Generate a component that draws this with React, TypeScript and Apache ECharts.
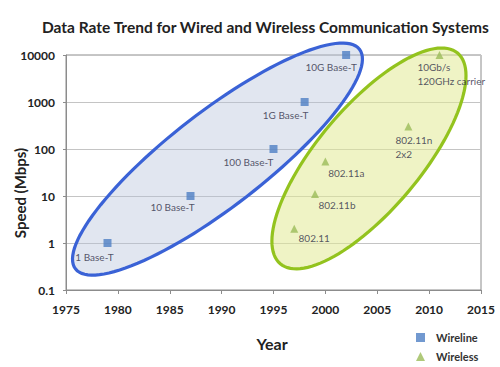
import React, { useEffect, useRef } from "react";
import * as echarts from "echarts";

// ---- data ----
const wirelineNames = ["1 Base-T", "10 Base-T", "100 Base-T", "1G Base-T", "10G Base-T"];
const wirelineYears = [1979, 1987, 1995, 1998, 2002];
const wirelineSpeeds = [1, 10, 100, 1000, 10000];

const wirelessNames = ["802.11", "802.11b", "802.11a", "802.11n\n2x2", "10Gb/s\n120GHz carrier"];
const wirelessYears = [1997, 1999, 2000, 2008, 2011];
const wirelessSpeeds = [2, 11, 54, 300, 10000];

const yTickLabels = ["0.1", "1", "10", "100", "1000", "10000"];

// ellipse annotations: centre in data units
const ellipseCenters = [
  [1989.6, 61],
  [2004.2, 63],
];

// ---- styling / layout (kept apart from data) ----
const wirelineLabelLayout = [
  { dx: -13, dy: 14, align: "center" },
  { dx: -18, dy: 11, align: "center" },
  { dx: -25, dy: 13, align: "center" },
  { dx: -19, dy: 13, align: "center" },
  { dx: -15, dy: 12, align: "center" },
];
const wirelessLabelLayout = [
  { dx: 20, dy: 9, align: "center" },
  { dx: 22, dy: 11, align: "center" },
  { dx: 21, dy: 11, align: "center" },
  { dx: -13, dy: 20, align: "left" },
  { dx: -22, dy: 19, align: "left" },
];
const ellipseShapes = [
  { a: 179.5, b: 47.5, deg: 37.7, stroke: "#3a62d6", fill: "rgba(180,192,218,0.40)" },
  { a: 137.7, b: 51.5, deg: 49.9, stroke: "#93c31e", fill: "rgba(226,234,150,0.55)" },
];

const FONT = "Lato, 'Liberation Sans', sans-serif";
const SYM = 8;

function buildPoints(names: string[], years: number[], speeds: number[], layout: any[]) {
  return names.map((n, i) => ({
    name: n,
    value: [years[i], speeds[i]],
    label: {
      show: true,
      formatter: n,
      position: [layout[i].dx + SYM / 2, layout[i].dy + SYM / 2],
      align: layout[i].align,
      verticalAlign: "middle",
      fontSize: 10,
      lineHeight: 14,
      fontFamily: FONT,
      color: "#2d2d45",
    },
  }));
}

const legendText = {
  fontFamily: FONT,
  fontSize: 11,
  fontWeight: "bold",
  color: "#333",
  padding: [0, 0, 0, 6],
};

export default function App() {
  const ref = useRef<HTMLDivElement>(null);
  useEffect(() => {
    if (!ref.current) return;
    const chart = echarts.init(ref.current, undefined, { renderer: "svg" });
    const option: any = {
      animation: false,
      backgroundColor: "#ffffff",
      title: {
        text: "Data Rate Trend for Wired and Wireless Communication Systems",
        left: 37,
        top: 14,
        textStyle: { fontFamily: FONT, fontSize: 15.5, fontWeight: "bold", color: "#222" },
      },
      grid: {
        left: 66,
        right: 19,
        top: 55,
        bottom: 77,
        show: true,
        borderColor: "#8c8c8c",
        borderWidth: 1,
      },
      legend: [
        {
          left: 416,
          top: 332,
          padding: 0,
          itemWidth: 9,
          itemHeight: 9,
          data: ["Wireline"],
          textStyle: legendText,
        },
        {
          left: 416,
          top: 351,
          padding: 0,
          itemWidth: 9,
          itemHeight: 9,
          data: ["Wireless"],
          textStyle: legendText,
        },
      ],
      xAxis: {
        type: "value",
        min: 1975,
        max: 2015,
        interval: 5,
        splitLine: { show: false },
        axisLine: { lineStyle: { color: "#8c8c8c" } },
        axisTick: { show: true, length: 4, lineStyle: { color: "#8c8c8c" } },
        axisLabel: {
          margin: 13,
          fontFamily: FONT,
          fontSize: 12,
          fontWeight: "bold",
          color: "#222",
          formatter: (v: number) => String(Math.round(v)),
        },
      },
      yAxis: {
        type: "log",
        logBase: 10,
        min: 0.1,
        max: 10000,
        splitLine: { show: true, lineStyle: { color: "#c4c4c4" } },
        axisLine: { show: true, lineStyle: { color: "#8c8c8c" } },
        axisTick: { show: true, length: 3, lineStyle: { color: "#8c8c8c" } },
        axisLabel: {
          margin: 11,
          fontFamily: FONT,
          fontSize: 12,
          fontWeight: "bold",
          color: "#222",
          formatter: (v: number) => {
            const idx = Math.round(Math.log10(v)) + 1;
            return yTickLabels[idx] ?? String(v);
          },
        },
      },
      graphic: [
        {
          type: "text",
          x: 20,
          y: 193,
          rotation: Math.PI / 2,
          style: {
            text: "Speed (Mbps)",
            fontFamily: FONT,
            fontSize: 15,
            fontWeight: "bold",
            fill: "#222",
            textAlign: "center",
            textVerticalAlign: "middle",
          },
        },
        {
          type: "text",
          x: 272,
          y: 343,
          style: {
            text: "Year",
            fontFamily: FONT,
            fontSize: 16,
            fontWeight: "bold",
            fill: "#222",
            textAlign: "center",
            textVerticalAlign: "middle",
          },
        },
      ],
      series: [
        {
          type: "custom",
          name: "ellipses",
          silent: true,
          z: 1,
          data: ellipseCenters,
          renderItem: (params: any, api: any) => {
            const c = api.coord([api.value(0), api.value(1)]);
            const s = ellipseShapes[params.dataIndex];
            const th = (s.deg * Math.PI) / 180;
            const pts: number[][] = [];
            const N = 120;
            for (let k = 0; k < N; k++) {
              const t = (2 * Math.PI * k) / N;
              const u = s.a * Math.cos(t);
              const w = s.b * Math.sin(t);
              pts.push([
                c[0] + u * Math.cos(th) - w * Math.sin(th),
                c[1] - (u * Math.sin(th) + w * Math.cos(th)),
              ]);
            }
            return {
              type: "polygon",
              shape: { points: pts },
              style: { fill: s.fill, stroke: s.stroke, lineWidth: 3.2 },
            };
          },
        },
        {
          type: "scatter",
          name: "Wireline",
          symbol: "rect",
          symbolSize: SYM,
          z: 3,
          itemStyle: { color: "#4f7fc4" },
          data: buildPoints(wirelineNames, wirelineYears, wirelineSpeeds, wirelineLabelLayout),
        },
        {
          type: "scatter",
          name: "Wireless",
          symbol: "triangle",
          symbolSize: SYM,
          z: 3,
          itemStyle: { color: "#9bbb59" },
          data: buildPoints(wirelessNames, wirelessYears, wirelessSpeeds, wirelessLabelLayout),
        },
      ],
    };
    chart.setOption(option);
    return () => chart.dispose();
  }, []);
  return <div ref={ref} style={{ width: 500, height: 367, position: "absolute", left: 0, top: 0 }} />;
}
